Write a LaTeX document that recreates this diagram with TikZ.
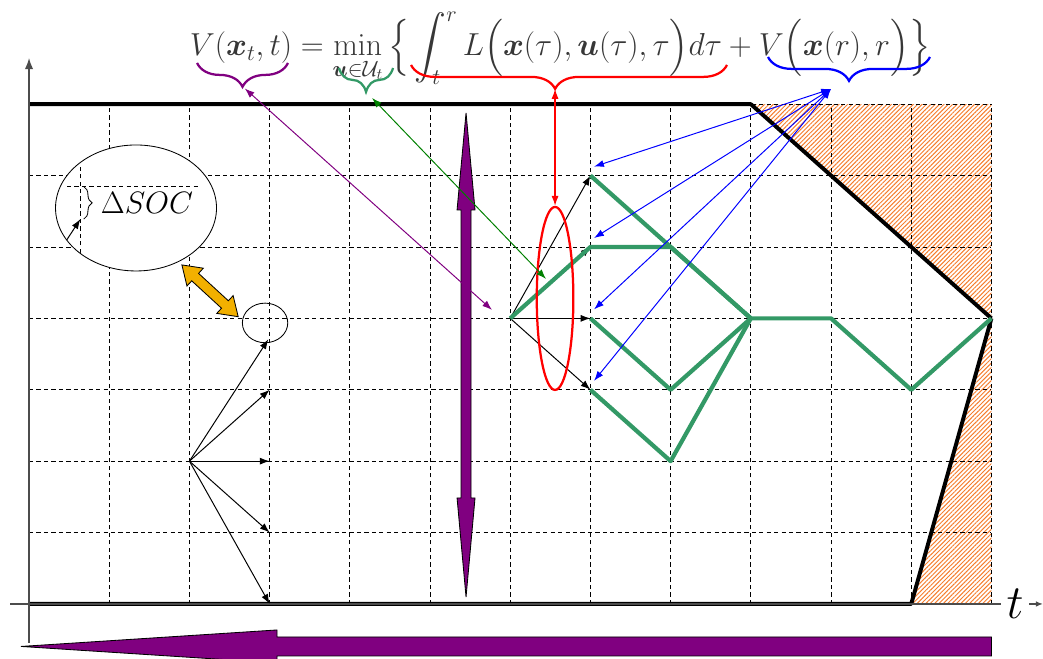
\RequirePackage{fix-cm}
\documentclass[tikz,border=0pt]{standalone}
\usepackage{amsmath,amssymb}
\usepackage{xcolor}
\usetikzlibrary{arrows.meta,calc,shapes.geometric,patterns.meta,decorations.pathreplacing}

\definecolor{pathgreen}{RGB}{51,153,102}
\definecolor{hatchorange}{RGB}{245,125,45}
\definecolor{amber}{RGB}{242,176,0}
\definecolor{formulagray}{RGB}{55,55,55}
\definecolor{vpurple}{RGB}{128,0,128}

\begin{document}
\begin{tikzpicture}[
  x=2.005cm, y=1.785cm,
  >={Latex[length=7pt,width=5pt]},
  gridline/.style={dash pattern=on 3pt off 2.3pt, line width=0.6pt},
  bound/.style={line width=2.8pt, line join=round},
  hatch/.style={pattern={Lines[angle=45,distance=2.2pt,line width=0.7pt]}, pattern color=hatchorange},
  greenpath/.style={pathgreen, line width=3pt, line join=round},
  fan/.style={->, line width=0.7pt},
  link/.style={<->, line width=0.7pt},
  fatarrow/.style={draw=black, line width=0.6pt, fill=vpurple},
  cbrace/.style={decorate, decoration={brace, mirror, amplitude=17pt}, line width=1.6pt},
  axis/.style={draw=black!70, line width=1pt},
]
\useasboundingbox (-0.362,-0.770) rectangle (12.643,8.459);

% grid points
\foreach \i in {0,...,12}
  \foreach \j in {0,...,7}
    \coordinate (g\i-\j) at (\i,\j);

% forbidden regions
\fill[hatch] (g9-7) -- (g12-7) -- (g12-4) -- cycle;
\fill[hatch] (g11-0) -- (g12-0) -- (g12-4) -- cycle;

\draw[gridline, step=1] (0,0) grid (12,7);

\draw[bound] (g0-7) -- (g9-7) -- (g12-4);
\draw[bound] (g0-0) -- (g11-0) -- (g12-4);

% axes
\coordinate (ybot) at (0,-0.546);
\coordinate (ytop) at (0,7.647);
\coordinate (xleft) at (-0.237,0);
\coordinate (xright) at (12.643,0);
\draw[axis, -{Latex[length=8pt,width=6pt]}] (ybot) -- (ytop);
\draw[axis, -{Latex[length=5pt,width=4pt]}] (xleft) -- (xright);
\node[fill=white, inner xsep=4pt, inner ysep=1pt, font={\fontsize{34}{34}\selectfont}] (tlbl) at (12.294,0) {$t$};

% control choices at one point
\node[ellipse, draw, minimum width=1.135cm, minimum height=0.99cm, inner sep=0pt, line width=0.6pt] (soc) at (2.943,3.936) {};
\coordinate (soctip) at (2.984,3.707);
\foreach \j in {0,...,3}
  \draw[fan] (g2-2) -- (g3-\j);
\draw[fan] (g2-2) -- (soctip);

% magnified view
\node[ellipse, draw, fill=white, minimum width=4.025cm, minimum height=3.15cm, line width=0.6pt] (mag) at (1.334,5.546) {};
\begin{scope}
  \clip (mag.center) ellipse [x radius=2cm, y radius=1.56cm];
  \draw[gridline] (0.645,4.5) -- (0.645,6.6);
\end{scope}
\draw[gridline] (0.474,5.845) -- (2.132,5.845);
\coordinate (magtail) at (0.470,5.098);
\coordinate (maghead) at (0.640,5.390);
\draw[fan] (magtail) -- (maghead);
\draw[decorate, decoration={brace, amplitude=6pt}, line width=0.6pt] (0.682,5.845) -- (0.682,5.39);
\node[font={\fontsize{22}{22}\selectfont}] (soclbl) at (1.471,5.616) {$\Delta SOC$};

\begin{scope}[shift={(2.257,4.386)}, rotate=-42.6, x=1pt, y=1pt]
  \filldraw[fill=amber, line width=0.6pt] (-27.2,0) -- (-14.4,8.6) -- (-14.4,3.6) -- (14.4,3.6) -- (14.4,8.6)
    -- (27.2,0) -- (14.4,-8.6) -- (14.4,-3.6) -- (-14.4,-3.6) -- (-14.4,-8.6) -- cycle;
\end{scope}

% transitions and optimal paths
\foreach \j in {3,...,6}
  \draw[fan] (g6-4) -- (g7-\j);
\draw[greenpath] (g6-4) -- (g7-5) -- (g8-5) -- (g9-4) -- (g10-4) -- (g11-3) -- (g12-4);
\draw[greenpath] (g7-6) -- (g9-4);
\draw[greenpath] (g7-4) -- (g8-3) -- (g9-4);
\draw[greenpath] (g7-3) -- (g8-2) -- (g9-4);

\filldraw[fatarrow] (5.449,6.877) -- (5.561,5.518) -- (5.511,5.518) -- (5.511,1.485) -- (5.561,1.485)
  -- (5.449,0.098) -- (5.337,1.485) -- (5.387,1.485) -- (5.387,5.518) -- (5.337,5.518) -- cycle;
\filldraw[fatarrow] (-0.100,-0.595) -- (3.092,-0.364) -- (3.092,-0.462) -- (12,-0.462)
  -- (12,-0.728) -- (3.092,-0.728) -- (3.092,-0.826) -- cycle;

\node[ellipse, draw=red, line width=1.6pt, minimum width=0.915cm, minimum height=4.575cm, inner sep=0pt] (sel) at (6.559,4.279) {};

% Bellman equation
\node[anchor=base, text=formulagray, font={\fontsize{22.6}{27}\selectfont}] (hjb) at (6.621,7.675)
  {$\displaystyle V(\boldsymbol{x}_t,t)=\min_{\boldsymbol{u}\in\mathcal{U}_t}\Big\{\int_t^r L\Big(\boldsymbol{x}(\tau),\boldsymbol{u}(\tau),\tau\Big)d\tau+V\Big(\boldsymbol{x}(r),r\Big)\Big\}$};

\draw[cbrace, vpurple] (2.095,7.577) -- (3.229,7.577);
\draw[cbrace, pathgreen] (3.865,7.507) -- (4.539,7.507);
\draw[cbrace, red, decoration={aspect=0.456}] (4.763,7.549) -- (8.703,7.549);
\draw[cbrace, blue] (9.214,7.661) -- (11.234,7.661);

\coordinate (vtip) at (2.69,7.22);
\coordinate (vend) at (5.773,4.118);
\coordinate (utip) at (4.277,7.087);
\coordinate (uend) at (6.446,4.552);
\coordinate (ltip) at (6.559,7.213);
\coordinate (rtip) at (10.0,7.213);

\draw[link, vpurple] (vtip) -- (vend);
\draw[link, green!50!black] (utip) -- (uend);
\draw[link, red, line width=0.9pt] (ltip) -- (sel.north);
\foreach \j in {3,...,6}
  \draw[link, blue] (rtip) -- ([shift={(0.045,0.125)}]g7-\j);
\end{tikzpicture}
\end{document}
